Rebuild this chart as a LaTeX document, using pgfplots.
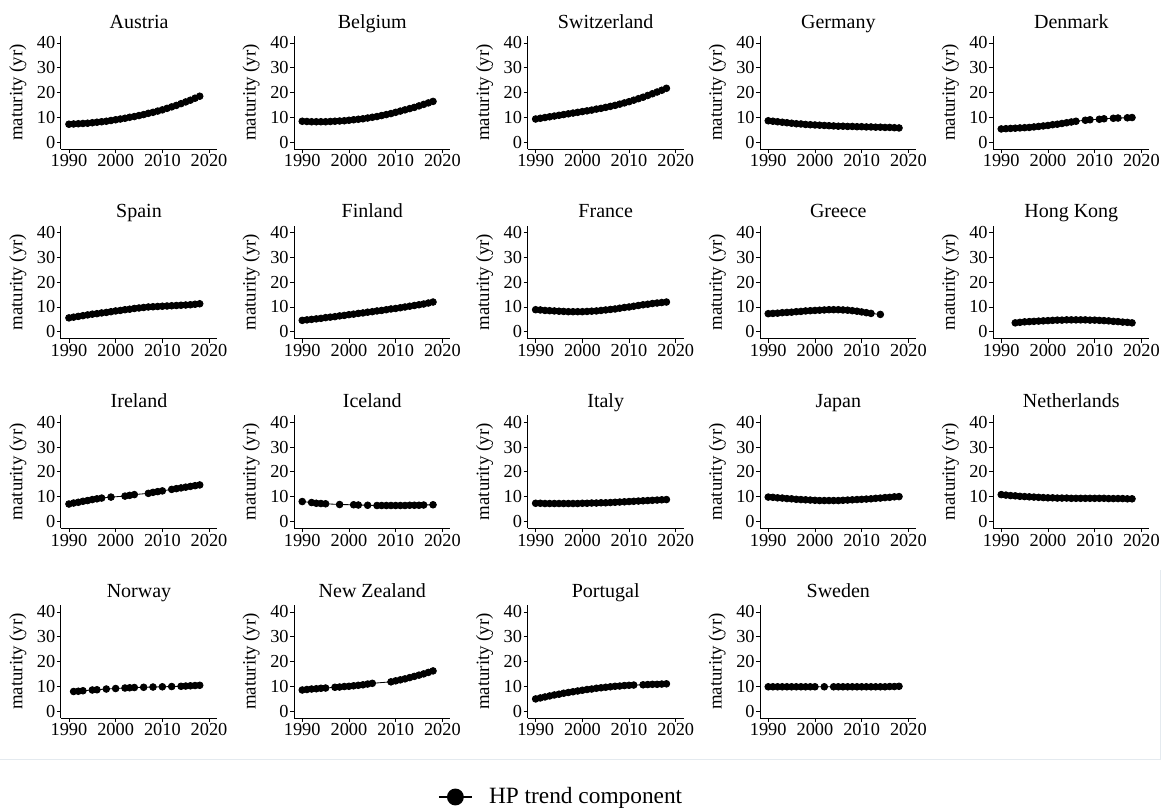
\documentclass[border=0pt]{standalone}
\usepackage{fontspec}
\setmainfont{Liberation Serif}
\usepackage{pgfplots}
\pgfplotsset{compat=1.18}
\definecolor{faint}{RGB}{228,234,239}
\pgfplotsset{
 panel/.style={
  scale only axis, width=93.6pt, height=67.8pt,
  xmin=1988.3, xmax=2021.7, ymin=-2.8, ymax=42.8,
  axis lines*=left,
  axis line style={line width=0.6pt, black},
  tick align=outside, major tick length=2.4pt,
  tick style={black, line width=0.5pt},
  xtick={1990,2000,2010,2020}, xticklabels={1990,2000,2010,2020},
  ytick={0,10,20,30,40}, yticklabels={0,10,20,30,40},
  tick label style={inner sep=0.8pt},
  ylabel={maturity (yr)},
  ylabel style={at={(axis description cs:-0.276,0.5)}, anchor=center, font=\fontsize{11.3}{13}\selectfont},
  title style={at={(axis description cs:0.5,1)}, anchor=base, yshift=-1.2pt, font=\fontsize{12}{14}\selectfont},
  font=\fontsize{11}{13}\selectfont,
  clip=false,
  anchor=north west,
 },
 hp/.style={black, line width=0.5pt, mark=*, mark size=2pt, mark options={fill=black, draw=black, solid}},
}
\begin{document}
\begin{tikzpicture}
\path[use as bounding box] (0pt,0pt) rectangle (696.6pt,-487.2pt);
\draw[faint, line width=0.6pt] (0pt,-455.4pt) -- (696pt,-455.4pt) -- (696pt,-342pt);
% Row 1
\begin{axis}[panel, at={(36.6pt,-21.6pt)}, title={Austria}]
\addplot[hp] coordinates {(1990,7.2)(1991,7.3)(1992,7.4)(1993,7.5)(1994,7.6)(1995,7.8)(1996,8.0)(1997,8.2)(1998,8.4)(1999,8.7)(2000,9.0)(2001,9.3)(2002,9.6)(2003,10.0)(2004,10.3)(2005,10.7)(2006,11.1)(2007,11.6)(2008,12.0)(2009,12.5)(2010,13.0)(2011,13.6)(2012,14.2)(2013,14.8)(2014,15.5)(2015,16.2)(2016,16.9)(2017,17.7)(2018,18.5)};
\end{axis}
\begin{axis}[panel, at={(176.58pt,-21.6pt)}, title={Belgium}]
\addplot[hp] coordinates {(1990,8.4)(1991,8.3)(1992,8.2)(1993,8.2)(1994,8.2)(1995,8.2)(1996,8.3)(1997,8.4)(1998,8.5)(1999,8.6)(2000,8.8)(2001,9.0)(2002,9.2)(2003,9.4)(2004,9.7)(2005,10.0)(2006,10.3)(2007,10.7)(2008,11.1)(2009,11.5)(2010,12.0)(2011,12.5)(2012,13.0)(2013,13.5)(2014,14.0)(2015,14.6)(2016,15.2)(2017,15.8)(2018,16.4)};
\end{axis}
\begin{axis}[panel, at={(316.62pt,-21.6pt)}, title={Switzerland}]
\addplot[hp] coordinates {(1990,9.3)(1991,9.6)(1992,9.9)(1993,10.2)(1994,10.5)(1995,10.8)(1996,11.1)(1997,11.4)(1998,11.7)(1999,12.0)(2000,12.3)(2001,12.6)(2002,12.9)(2003,13.3)(2004,13.6)(2005,14.0)(2006,14.4)(2007,14.8)(2008,15.3)(2009,15.8)(2010,16.3)(2011,16.9)(2012,17.5)(2013,18.1)(2014,18.8)(2015,19.5)(2016,20.2)(2017,20.9)(2018,21.7)};
\end{axis}
\begin{axis}[panel, at={(456.18pt,-21.6pt)}, title={Germany}]
\addplot[hp] coordinates {(1990,8.6)(1991,8.4)(1992,8.2)(1993,8.0)(1994,7.8)(1995,7.6)(1996,7.4)(1997,7.3)(1998,7.1)(1999,7.0)(2000,6.9)(2001,6.8)(2002,6.7)(2003,6.6)(2004,6.5)(2005,6.4)(2006,6.4)(2007,6.3)(2008,6.3)(2009,6.2)(2010,6.2)(2011,6.1)(2012,6.1)(2013,6.0)(2014,6.0)(2015,5.9)(2016,5.9)(2017,5.8)(2018,5.7)};
\end{axis}
\begin{axis}[panel, at={(595.98pt,-21.6pt)}, title={Denmark}]
\addplot[hp] coordinates {(1990,5.3)(1991,5.4)(1992,5.5)(1993,5.6)(1994,5.7)(1995,5.8)(1996,5.9)(1997,6.1)(1998,6.3)(1999,6.5)(2000,6.7)(2001,7.0)(2002,7.2)(2003,7.5)(2004,7.8)(2005,8.1)(2006,8.4)(2008,8.8)(2009,9.0)(2011,9.2)(2012,9.4)(2014,9.6)(2015,9.7)(2017,9.8)(2018,9.9)};
\end{axis}
% Row 2
\begin{axis}[panel, at={(36.6pt,-135.42pt)}, title={Spain}]
\addplot[hp] coordinates {(1990,5.6)(1991,5.9)(1992,6.2)(1993,6.5)(1994,6.8)(1995,7.1)(1996,7.3)(1997,7.6)(1998,7.8)(1999,8.1)(2000,8.4)(2001,8.6)(2002,8.9)(2003,9.1)(2004,9.4)(2005,9.6)(2006,9.8)(2007,10.0)(2008,10.1)(2009,10.2)(2010,10.3)(2011,10.4)(2012,10.5)(2013,10.6)(2014,10.7)(2015,10.8)(2016,10.9)(2017,11.1)(2018,11.3)};
\end{axis}
\begin{axis}[panel, at={(176.58pt,-135.42pt)}, title={Finland}]
\addplot[hp] coordinates {(1990,4.6)(1991,4.8)(1992,5.0)(1993,5.2)(1994,5.4)(1995,5.7)(1996,5.9)(1997,6.1)(1998,6.4)(1999,6.6)(2000,6.9)(2001,7.1)(2002,7.4)(2003,7.6)(2004,7.9)(2005,8.1)(2006,8.4)(2007,8.6)(2008,8.9)(2009,9.2)(2010,9.4)(2011,9.7)(2012,10.0)(2013,10.3)(2014,10.6)(2015,10.9)(2016,11.2)(2017,11.6)(2018,12.0)};
\end{axis}
\begin{axis}[panel, at={(316.62pt,-135.42pt)}, title={France}]
\addplot[hp] coordinates {(1990,8.9)(1991,8.8)(1992,8.6)(1993,8.5)(1994,8.4)(1995,8.3)(1996,8.2)(1997,8.1)(1998,8.1)(1999,8.1)(2000,8.1)(2001,8.2)(2002,8.3)(2003,8.4)(2004,8.6)(2005,8.8)(2006,9.0)(2007,9.2)(2008,9.5)(2009,9.8)(2010,10.0)(2011,10.3)(2012,10.6)(2013,10.9)(2014,11.1)(2015,11.4)(2016,11.6)(2017,11.8)(2018,12.0)};
\end{axis}
\begin{axis}[panel, at={(456.18pt,-135.42pt)}, title={Greece}]
\addplot[hp] coordinates {(1990,7.3)(1991,7.4)(1992,7.5)(1993,7.7)(1994,7.8)(1995,7.9)(1996,8.1)(1997,8.2)(1998,8.4)(1999,8.5)(2000,8.6)(2001,8.7)(2002,8.8)(2003,8.9)(2004,8.9)(2005,8.9)(2006,8.8)(2007,8.7)(2008,8.5)(2009,8.3)(2010,8.0)(2011,7.7)(2012,7.4)(2014,7.0)};
\end{axis}
\begin{axis}[panel, at={(595.98pt,-135.42pt)}, title={Hong Kong}]
\addplot[hp] coordinates {(1993,3.6)(1994,3.8)(1995,4.0)(1996,4.1)(1997,4.2)(1998,4.3)(1999,4.4)(2000,4.5)(2001,4.6)(2002,4.7)(2003,4.7)(2004,4.8)(2005,4.8)(2006,4.8)(2007,4.8)(2008,4.8)(2009,4.7)(2010,4.7)(2011,4.6)(2012,4.5)(2013,4.4)(2014,4.2)(2015,4.1)(2016,3.9)(2017,3.8)(2018,3.6)};
\end{axis}
% Row 3
\begin{axis}[panel, at={(36.6pt,-249.18pt)}, title={Ireland}]
\addplot[hp] coordinates {(1990,7.0)(1991,7.4)(1992,7.7)(1993,8.1)(1994,8.4)(1995,8.8)(1996,9.1)(1997,9.4)(1999,9.8)(2002,10.2)(2003,10.5)(2004,10.8)(2007,11.3)(2008,11.7)(2009,12.0)(2010,12.3)(2012,12.9)(2013,13.2)(2014,13.5)(2015,13.8)(2016,14.1)(2017,14.4)(2018,14.7)};
\end{axis}
\begin{axis}[panel, at={(176.58pt,-249.18pt)}, title={Iceland}]
\addplot[hp] coordinates {(1990,8.0)(1992,7.6)(1993,7.3)(1994,7.2)(1995,7.1)(1998,6.8)(2001,6.7)(2002,6.6)(2004,6.5)(2006,6.4)(2007,6.4)(2008,6.4)(2009,6.4)(2010,6.4)(2011,6.4)(2012,6.4)(2013,6.5)(2014,6.5)(2015,6.5)(2016,6.6)(2018,6.7)};
\end{axis}
\begin{axis}[panel, at={(316.62pt,-249.18pt)}, title={Italy}]
\addplot[hp] coordinates {(1990,7.3)(1991,7.3)(1992,7.2)(1993,7.2)(1994,7.2)(1995,7.2)(1996,7.2)(1997,7.2)(1998,7.2)(1999,7.2)(2000,7.3)(2001,7.3)(2002,7.4)(2003,7.4)(2004,7.5)(2005,7.5)(2006,7.6)(2007,7.7)(2008,7.8)(2009,7.9)(2010,8.0)(2011,8.1)(2012,8.2)(2013,8.3)(2014,8.4)(2015,8.5)(2016,8.6)(2017,8.7)(2018,8.8)};
\end{axis}
\begin{axis}[panel, at={(456.18pt,-249.18pt)}, title={Japan}]
\addplot[hp] coordinates {(1990,9.8)(1991,9.7)(1992,9.5)(1993,9.4)(1994,9.2)(1995,9.1)(1996,8.9)(1997,8.8)(1998,8.7)(1999,8.6)(2000,8.5)(2001,8.4)(2002,8.4)(2003,8.4)(2004,8.4)(2005,8.4)(2006,8.5)(2007,8.6)(2008,8.7)(2009,8.8)(2010,8.9)(2011,9.0)(2012,9.1)(2013,9.3)(2014,9.4)(2015,9.6)(2016,9.7)(2017,9.9)(2018,10.0)};
\end{axis}
\begin{axis}[panel, at={(595.98pt,-249.18pt)}, title={Netherlands}]
\addplot[hp] coordinates {(1990,10.8)(1991,10.6)(1992,10.4)(1993,10.3)(1994,10.1)(1995,10.0)(1996,9.9)(1997,9.8)(1998,9.7)(1999,9.6)(2000,9.5)(2001,9.5)(2002,9.4)(2003,9.4)(2004,9.4)(2005,9.3)(2006,9.3)(2007,9.3)(2008,9.3)(2009,9.3)(2010,9.3)(2011,9.3)(2012,9.3)(2013,9.2)(2014,9.2)(2015,9.2)(2016,9.2)(2017,9.1)(2018,9.1)};
\end{axis}
% Row 4
\begin{axis}[panel, at={(36.6pt,-363pt)}, title={Norway}]
\addplot[hp] coordinates {(1991,7.9)(1992,8.0)(1993,8.2)(1995,8.5)(1996,8.6)(1998,8.9)(2000,9.1)(2002,9.3)(2003,9.4)(2004,9.5)(2006,9.6)(2008,9.7)(2010,9.8)(2012,9.9)(2014,10.0)(2015,10.1)(2016,10.2)(2017,10.3)(2018,10.4)};
\end{axis}
\begin{axis}[panel, at={(176.58pt,-363pt)}, title={New Zealand}]
\addplot[hp] coordinates {(1990,8.5)(1991,8.7)(1992,8.9)(1993,9.0)(1994,9.2)(1995,9.3)(1997,9.6)(1998,9.7)(1999,9.9)(2000,10.0)(2001,10.2)(2002,10.4)(2003,10.6)(2004,10.9)(2005,11.2)(2009,11.8)(2010,12.2)(2011,12.6)(2012,13.0)(2013,13.5)(2014,14.0)(2015,14.5)(2016,15.0)(2017,15.6)(2018,16.2)};
\end{axis}
\begin{axis}[panel, at={(316.62pt,-363pt)}, title={Portugal}]
\addplot[hp] coordinates {(1990,4.9)(1991,5.3)(1992,5.7)(1993,6.1)(1994,6.5)(1995,6.8)(1996,7.2)(1997,7.5)(1998,7.8)(1999,8.1)(2000,8.4)(2001,8.7)(2002,8.9)(2003,9.2)(2004,9.4)(2005,9.6)(2006,9.8)(2007,10.0)(2008,10.1)(2009,10.3)(2010,10.4)(2011,10.5)(2013,10.6)(2014,10.7)(2015,10.8)(2016,10.8)(2017,10.9)(2018,11.0)};
\end{axis}
\begin{axis}[panel, at={(456.18pt,-363pt)}, title={Sweden},
  legend style={at={(axis description cs:-2.071,-0.699)}, anchor=west, draw=none, fill=none, inner sep=0pt,
    font=\fontsize{14}{16}\selectfont},
  legend image code/.code={\draw[mark repeat=2,mark phase=2,#1, line width=1.5pt, mark size=4.3pt] plot coordinates {(0cm,0cm) (0.35cm,0cm) (0.7cm,0cm)}; \path (0.7cm+8pt,0cm);}]
\addplot[hp] coordinates {(1990,9.8)(1991,9.8)(1992,9.8)(1993,9.8)(1994,9.8)(1995,9.8)(1996,9.8)(1997,9.8)(1998,9.8)(1999,9.8)(2000,9.8)(2002,9.8)(2004,9.8)(2005,9.8)(2006,9.8)(2007,9.8)(2008,9.8)(2009,9.8)(2010,9.8)(2011,9.8)(2012,9.8)(2013,9.8)(2014,9.8)(2015,9.8)(2016,9.9)(2017,9.9)(2018,10.0)};
\addlegendentry{HP trend component}
\end{axis}
\end{tikzpicture}
\end{document}
